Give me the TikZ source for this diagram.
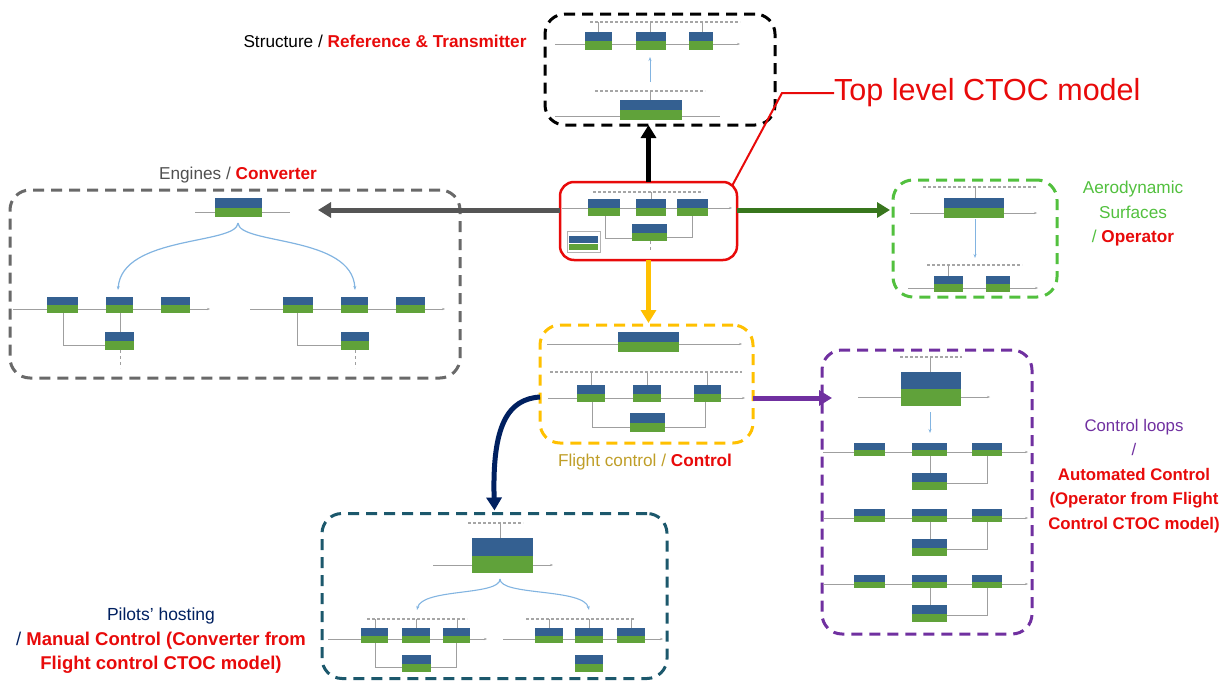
\documentclass[tikz,border=0pt]{standalone}
\usepackage{fontspec}
\setmainfont{Liberation Sans}
\usetikzlibrary{arrows.meta,calc}
\definecolor{tblue}{RGB}{52,96,145}
\definecolor{tgreen}{RGB}{96,162,58}
\definecolor{tlblue}{RGB}{130,180,225}
\definecolor{cred}{RGB}{232,10,10}
\definecolor{cgray}{RGB}{105,105,105}
\definecolor{cgreen}{RGB}{82,192,62}
\definecolor{cyellow}{RGB}{255,192,0}
\definecolor{cpurple}{RGB}{112,48,160}
\definecolor{cteal}{RGB}{28,88,108}
\definecolor{agray}{RGB}{85,85,85}
\definecolor{agreen}{RGB}{56,118,29}
\definecolor{anavy}{RGB}{0,32,96}
\definecolor{fcol}{RGB}{191,158,40}
\definecolor{txgray}{RGB}{80,80,80}
\newcommand{\blk}[4]{\fill[tblue] (#1,#2) rectangle (#3,{(#2+#4)/2});\fill[tgreen] (#1,{(#2+#4)/2}) rectangle (#3,#4);}
\tikzset{
  frame/.style={draw,line width=3pt,dash pattern=on 11pt off 7pt,rounded corners=20pt,inner sep=0pt,outer sep=0pt},
  tl/.style={draw=gray!75,line width=0.8pt},
  tld/.style={draw=gray!70,line width=1.1pt,dash pattern=on 3pt off 2pt},
  tarr/.style={draw=tlblue,line width=1pt,-{Stealth[length=4pt,width=3pt]}},
  bigarr/.style={line width=5pt,-{Triangle[length=13pt,width=15pt]}},
  lbl/.style={inner sep=0pt,align=center}
}
\begin{document}
\begin{tikzpicture}[x=1pt,y=-1pt]
\useasboundingbox (0,0) rectangle (1226,680);
% frames
\node[frame,draw=black,minimum width=230pt,minimum height=111pt] (struct) at (660,69.5) {};
\node[draw=cred,line width=2.5pt,rounded corners=14pt,inner sep=0pt,outer sep=0pt,minimum width=177pt,minimum height=78pt] (ctoc) at (648.5,221) {};
\node[frame,draw=cgray,minimum width=450pt,minimum height=188pt] (eng) at (235,284) {};
\node[frame,draw=cgreen,minimum width=164pt,minimum height=117pt] (aero) at (975,238.5) {};
\node[frame,draw=cyellow,minimum width=213pt,minimum height=118pt] (fc) at (646.5,384) {};
\node[frame,draw=cpurple,minimum width=210pt,minimum height=284pt] (cl) at (927,492) {};
\node[frame,draw=cteal,minimum width=345pt,minimum height=165pt] (pil) at (494.5,596) {};

% ---- structure thumbnail
\draw[tld] (590,22)--(740,22);
\draw[tl] (598,22)--(598,32) (650,22)--(650,32) (702,22)--(702,32);
\draw[tl,-{Stealth[length=3pt]}] (555,44)--(740,44);
\blk{585}{32}{612}{50}\blk{636}{32}{666}{50}\blk{689}{32}{713}{50}
\draw[tarr] (650,82)--(650,57);
\draw[tld] (595,91)--(705,91);
\draw[tl] (650,91)--(650,100);
\draw[tl] (555,116)--(720,116);
\blk{620}{100}{682}{120}

% ---- CTOC thumbnail
\draw[tld] (593,192)--(703,192);
\draw[tl] (651,192)--(651,199);
\draw[tl,-{Stealth[length=3pt]}] (562,208)--(732,208);
\draw[tl] (605,216)--(605,238)--(632,238) (667,237)--(692,237)--(692,216);
\draw[tl,dashed] (650,241)--(650,252);
\blk{588}{199}{620}{216}\blk{636}{199}{666}{216}\blk{677}{199}{708}{216}\blk{632}{224}{667}{241}
\draw[gray!60,line width=0.5pt] (567,231) rectangle (600,252);
\fill[tblue] (569,236) rectangle (598,243);
\fill[tgreen] (569,244) rectangle (598,250);

% ---- engines thumbnail
\draw[tl] (195,212)--(290,212);
\blk{215}{198}{262}{217}
\draw[tarr,line width=1.2pt] (238,223) .. controls (237,245) and (122,235) .. (118,290);
\draw[tarr,line width=1.2pt] (238,223) .. controls (239,245) and (352,235) .. (355,290);
\draw[tl,-{Stealth[length=3pt]}] (13,309)--(210,309);
\draw[tl] (63,313)--(63,345)--(105,345) (120,313)--(120,332);
\draw[tl,dashed] (120,350)--(120,368);
\blk{47}{297}{78}{313}\blk{106}{297}{133}{313}\blk{161}{297}{190}{313}\blk{105}{332}{134}{350}
\draw[tl,-{Stealth[length=3pt]}] (250,309)--(445,309);
\draw[tl] (297,313)--(297,345)--(341,345);
\draw[tl,dashed] (355,350)--(355,368);
\blk{283}{297}{313}{313}\blk{341}{297}{368}{313}\blk{396}{297}{425}{313}\blk{341}{332}{369}{350}

% ---- aero thumbnail
\draw[tld] (923,187)--(1037,187);
\draw[tl] (975,187)--(975,198);
\draw[tl,-{Stealth[length=3pt]}] (910,213)--(1037,213);
\blk{944}{198}{1004}{218}
\draw[tarr] (975,219)--(975,258);
\draw[tld] (927,265)--(1022,265);
\draw[tl] (948,265)--(948,276);
\draw[tl,-{Stealth[length=3pt]}] (908,288)--(1038,288);
\blk{934}{276}{963}{292}\blk{986}{276}{1010}{292}

% ---- flight control thumbnail
\draw[tl,-{Stealth[length=3pt]}] (547,344)--(742,344);
\blk{618}{332}{679}{352}
\draw[tld] (550,372)--(742,372);
\draw[tl] (591,372)--(591,385) (647,372)--(647,385) (707,372)--(707,385);
\draw[tl,-{Stealth[length=3pt]}] (548,398)--(745,398);
\draw[tl] (592,402)--(592,427)--(630,427) (665,427)--(705,427)--(705,402);
\blk{577}{385}{605}{402}\blk{633}{385}{661}{402}\blk{694}{385}{721}{402}\blk{630}{413}{665}{432}

% ---- control loops thumbnail
\draw[tld] (900,357)--(962,357);
\draw[tl] (930,357)--(930,372);
\draw[tl,-{Stealth[length=3pt]}] (858,397)--(990,397);
\blk{901}{372}{961}{406}
\draw[tarr] (930,412)--(930,433);
\foreach \y in {443,509,575}{
  \draw[tl,-{Stealth[length=3pt]}] (823,\y+9)--(1028,\y+9);
  \draw[tl] (930,\y+13)--(930,\y+30) (947,\y+40)--(987,\y+40)--(987,\y+13);
  \blk{854}{\y}{885}{\y+13}\blk{912}{\y}{947}{\y+13}\blk{972}{\y}{1002}{\y+13}\blk{912}{\y+30}{947}{\y+47}
}

% ---- pilots thumbnail
\draw[tld] (468,523)--(523,523);
\draw[tl] (500,523)--(500,538);
\draw[tl,-{Stealth[length=3pt]}] (433,565)--(553,565);
\blk{472}{538}{533}{573}
\draw[tarr,line width=1.1pt] (500,579) .. controls (500,596) and (422,588) .. (417,610);
\draw[tarr,line width=1.1pt] (500,579) .. controls (500,596) and (584,588) .. (589,610);
\draw[tld] (367,619)--(467,619);
\draw[tl] (375,619)--(375,628) (416,619)--(416,628) (457,619)--(457,628);
\draw[tl,-{Stealth[length=3pt]}] (328,639)--(487,639);
\draw[tl] (375,643)--(375,667)--(402,667) (431,667)--(456,667)--(456,643);
\blk{361}{628}{388}{643}\blk{402}{628}{430}{643}\blk{443}{628}{470}{643}\blk{402}{655}{431}{672}
\draw[tld] (526,619)--(635,619);
\draw[tl] (549,619)--(549,628) (589,619)--(589,628) (631,619)--(631,628);
\draw[tl,-{Stealth[length=3pt]}] (503,639)--(663,639);
\blk{535}{628}{563}{643}\blk{575}{628}{603}{643}\blk{617}{628}{645}{643}\blk{575}{655}{603}{672}

% ---- big arrows
\coordinate (gl) at ([yshift=11pt]ctoc.west);
\coordinate (gr) at ([yshift=11pt]ctoc.east);
\coordinate (engtip) at (318,210);
\coordinate (pr) at ([yshift=-14pt]fc.east);
\coordinate (nl) at ([yshift=-13pt]fc.west);
\draw[bigarr,black] (ctoc.north) -- (ctoc.north |- struct.south);
\draw[bigarr,agray] (gl) -- (engtip);
\draw[bigarr,agreen] (gr) -- ([xshift=-3pt]gr -| aero.west);
\draw[bigarr,cyellow] (ctoc.south) -- ([yshift=2pt]ctoc.south |- fc.north);
\draw[bigarr,cpurple] (pr) -- ([xshift=10pt]pr -| cl.west);
\draw[bigarr,anavy] (nl) .. controls (508,399) and (492,425) .. ([yshift=3pt]pil.north);

% ---- labels
\node[lbl,anchor=west,text=cred,font=\fontsize{30.5}{33}\selectfont] (toplbl) at (834,93) {Top level CTOC model};
\draw[cred,line width=2pt] ([shift={(-5pt,-4pt)}]ctoc.north east) -- (782,93) -- (toplbl.west);
\node[lbl,font=\fontsize{17.2}{20}\selectfont] (slbl) at (385,41) {Structure / \textcolor{cred}{\bfseries Reference \& Transmitter}};
\node[lbl,font=\fontsize{17.2}{20}\selectfont,text=txgray] (elbl) at (238,175) {Engines / \textcolor{cred}{\bfseries Converter}};
\node[lbl,font=\fontsize{17.2}{24.5}\selectfont,text=cgreen] (albl) at (1133,214) {Aerodynamic\\Surfaces\\/ \textcolor{cred}{\bfseries Operator}};
\node[lbl,font=\fontsize{17.2}{20}\selectfont,text=fcol] (flbl) at (645,462) {Flight control / \textcolor{cred}{\bfseries Control}};
\node[lbl,font=\fontsize{16.8}{24.5}\selectfont,text=cpurple] (clbl) at (1134,476) {Control loops\\/\\\textcolor{cred}{\bfseries Automated Control}\\\textcolor{cred}{\bfseries (Operator from Flight}\\\textcolor{cred}{\bfseries Control CTOC model)}};
\node[lbl,font=\fontsize{17.5}{24.5}\selectfont,text=anavy] (plbl) at (161,641) {Pilots' hosting\\{\fontsize{18.5}{24.5}\selectfont / \textcolor{cred}{\bfseries Manual Control (Converter from}}\\{\fontsize{18.5}{24.5}\selectfont\textcolor{cred}{\bfseries Flight control CTOC model)}}};
\end{tikzpicture}
\end{document}
